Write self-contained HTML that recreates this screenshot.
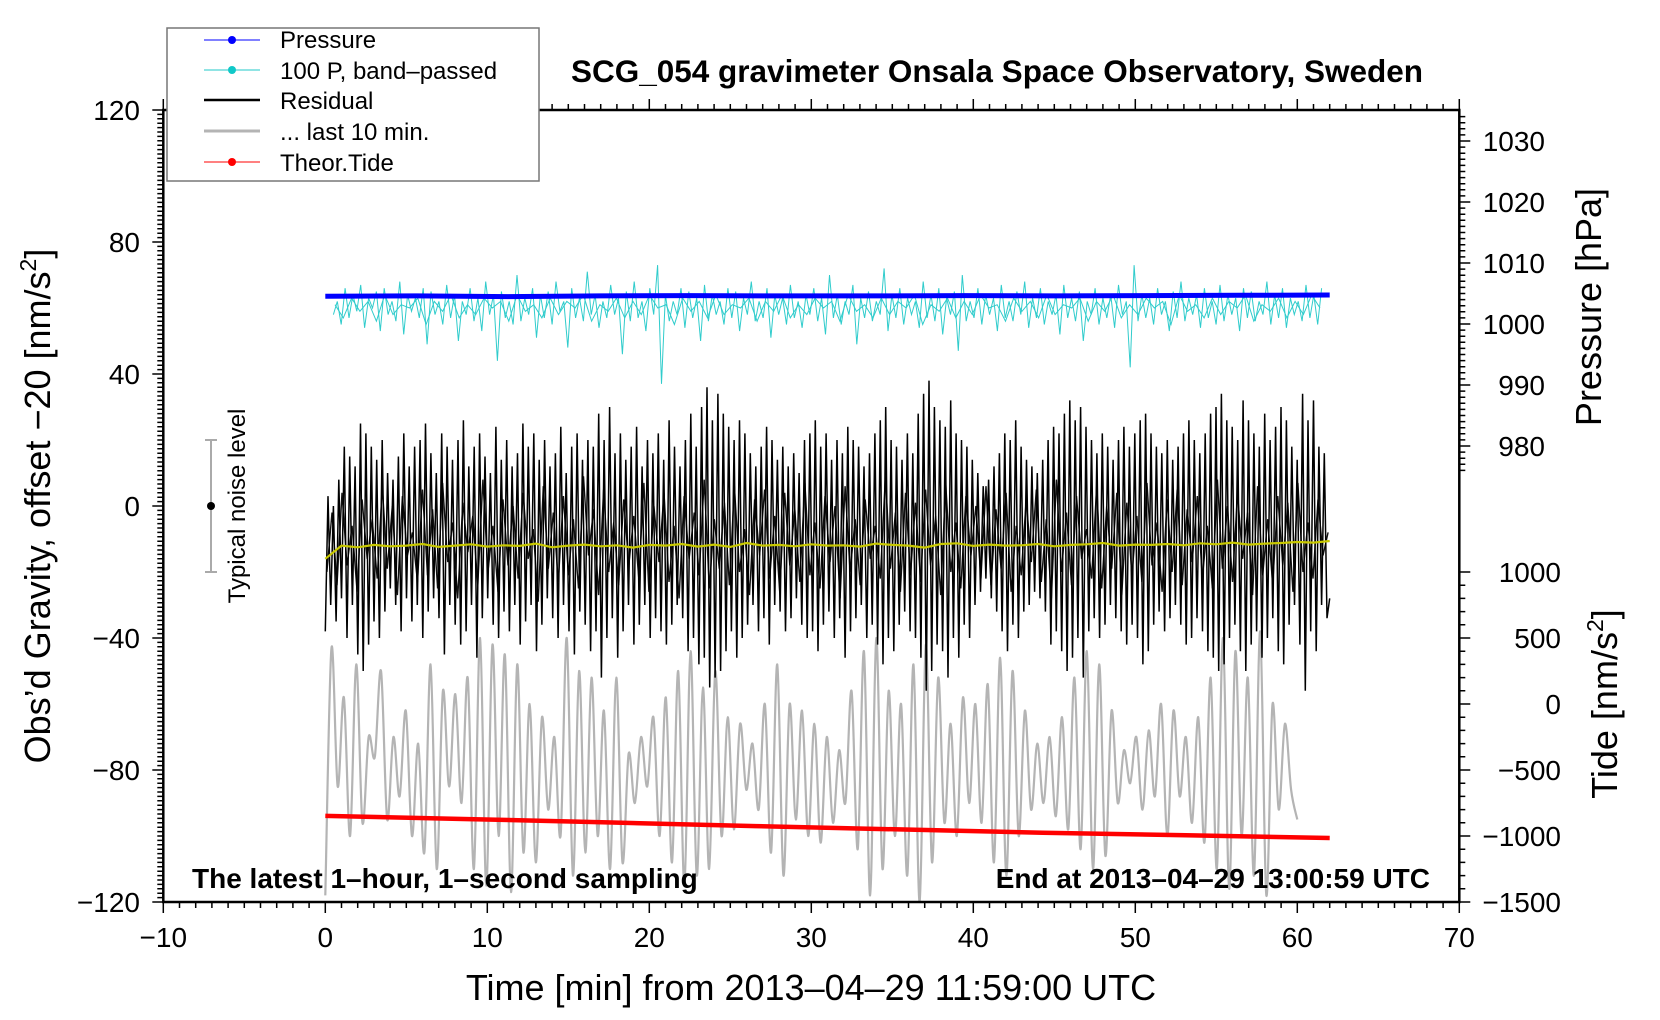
<!DOCTYPE html>
<html><head><meta charset="utf-8"><style>
html,body{margin:0;padding:0;background:#fff;}
svg{display:block;font-family:"Liberation Sans",Arial,sans-serif;}
</style></head><body>
<svg id="chart" width="1660" height="1020" viewBox="0 0 1660 1020" xmlns="http://www.w3.org/2000/svg">
<rect x="0" y="0" width="1660" height="1020" fill="#fff"/>
<g id="axes"></g>
<g id="series"></g>
<rect x="163.3" y="110" width="1296" height="792" fill="none" stroke="#000" stroke-width="2.5"/>
<text x="997" y="82" font-size="31.5" font-weight="bold" text-anchor="middle">SCG_054 gravimeter Onsala Space Observatory, Sweden</text>
<text x="192" y="888" font-size="28" font-weight="bold">The latest 1–hour, 1–second sampling</text>
<text x="1430" y="888" font-size="28" font-weight="bold" text-anchor="end">End at 2013–04–29 13:00:59 UTC</text>
<text x="811" y="1000" font-size="36" text-anchor="middle">Time [min] from 2013–04–29 11:59:00 UTC</text>
<text transform="translate(50,506) rotate(-90)" font-size="36" text-anchor="middle">Obs’d Gravity, offset −20 [nm/s<tspan font-size="23" dy="-14">2</tspan><tspan dy="14">]</tspan></text>
<text transform="translate(1601,307) rotate(-90)" font-size="36" text-anchor="middle">Pressure [hPa]</text>
<text transform="translate(1617,704) rotate(-90)" font-size="36" text-anchor="middle">Tide [nm/s<tspan font-size="23" dy="-14">2</tspan><tspan dy="14">]</tspan></text>
<g>
<line x1="211" y1="440" x2="211" y2="572" stroke="#aaa" stroke-width="2"/>
<line x1="205" y1="440" x2="217" y2="440" stroke="#aaa" stroke-width="2"/>
<line x1="205" y1="572" x2="217" y2="572" stroke="#aaa" stroke-width="2"/>
<circle cx="211" cy="506" r="4" fill="#000"/>
<text transform="translate(245,506) rotate(-90)" font-size="24" text-anchor="middle">Typical noise level</text>
</g>
<g>
<rect x="167" y="28" width="372" height="153" fill="#fff" stroke="#777" stroke-width="1.5"/>
<g><line x1="204" y1="40" x2="260" y2="40" stroke="#0000ff" stroke-width="1"/><circle cx="232" cy="40" r="4" fill="#0000ff"/><text x="280" y="48" font-size="24">Pressure</text></g>
<g><line x1="204" y1="70" x2="260" y2="70" stroke="#20c8c8" stroke-width="1"/><circle cx="232" cy="70" r="4" fill="#10c8c8"/><text x="280" y="79" font-size="24">100 P, band–passed</text></g>
<g><line x1="204" y1="100" x2="260" y2="100" stroke="#000" stroke-width="2.5"/><text x="280" y="109" font-size="24">Residual</text></g>
<g><line x1="204" y1="131" x2="260" y2="131" stroke="#b4b4b4" stroke-width="3"/><text x="280" y="140" font-size="24">... last 10 min.</text></g>
<g><line x1="204" y1="162" x2="260" y2="162" stroke="#ff0000" stroke-width="1"/><circle cx="232" cy="162" r="4" fill="#ff0000"/><text x="280" y="171" font-size="24">Theor.Tide</text></g>
</g>
</svg>
<script>
// ---- data ----
const xTicks = [-10,0,10,20,30,40,50,60,70];
const gravTicks = [120,80,40,0,-40,-80,-120];
const pressTicks = [1030,1020,1010,1000,990,980];
const tideTicks = [1000,500,0,-500,-1000,-1500];
const residual = [
-38,3,-30,0,-35,8,-28,18,-40,15,-30,12,
-45,25,-50,22,-42,18,-35,14,-40,20,-32,10,
-25,8,-30,15,-38,22,-28,12,-35,18,-30,20,
-40,25,-32,16,-28,10,-34,22,-45,18,-30,14,
-36,20,-42,26,-38,12,-30,18,-46,22,-34,15,
-28,10,-36,24,-40,14,-32,20,-38,12,-30,16,
-42,25,-35,18,-30,22,-44,14,-36,20,-28,12,
-34,16,-40,24,-30,10,-38,18,-45,22,-32,14,
-36,20,-44,18,-38,28,-52,20,-40,30,-34,16,
-46,22,-38,14,-30,18,-42,24,-36,12,-30,20,
-40,16,-34,22,-38,14,-42,26,-36,18,-30,12,
-34,20,-44,28,-40,18,-48,30,-46,36,-55,26,
-52,34,-50,28,-44,24,-38,20,-46,26,-40,22,
-36,16,-30,12,-38,18,-34,24,-42,20,-30,14,
-32,18,-38,12,-34,16,-28,10,-36,20,-40,22,
-38,26,-44,18,-36,22,-32,14,-40,20,-34,16,
-46,24,-38,20,-34,18,-30,12,-40,16,-36,22,
-42,26,-48,30,-40,20,-44,18,-36,14,-32,22,
-38,16,-40,28,-46,34,-56,38,-50,30,-42,26,
-44,24,-52,32,-40,22,-46,20,-36,18,-40,14,
-30,10,-26,6,-22,8,-28,12,-32,16,-38,22,
-44,20,-36,26,-40,18,-32,14,-30,12,-26,10,
-28,14,-32,20,-42,24,-38,22,-44,28,-50,32,
-46,26,-40,30,-52,24,-38,20,-34,16,-40,22,
-36,18,-30,14,-34,20,-38,24,-42,18,-36,22,
-40,26,-48,28,-44,22,-36,18,-32,16,-38,20,
-34,14,-30,18,-36,22,-42,26,-40,20,-34,16,
-38,22,-44,28,-46,30,-50,34,-48,26,-40,24,
-36,20,-44,32,-50,26,-42,22,-38,18,-46,28,
-40,20,-34,24,-44,30,-48,26,-36,18,-30,14,
-42,34,-56,26,-38,32,-44,18,-30,16,-34,-28];
const residualFine = [
-20,-2,-24,4,-18,-6,-26,2,-16,-4,-22,6,-19,0,-27,3,-15,-8,-23,5,
-21,-1,-25,7,-17,-5,-28,1,-14,-3,-24,8,-20,-6,-26,2,-18,0,-22,4,
-16,-7,-29,6,-19,-2,-23,3,-21,-4,-25,9,-15,-1,-27,5,-20,-5,-24,2,
-18,-3,-22,7,-26,0,-17,4,-23,-6,-28,3,-16,-2,-21,8,-25,-4,-19,1,
-24,6,-20,-7,-27,2,-15,5,-22,-3,-26,4,-18,-1,-23,7,-21,-5,-25,3,
-17,0,-28,6,-20,-4,-24,2,-16,-6,-22,9,-19,-2,-26,4,-21,1,-23,5,
-18,-3,-27,7,-20,-5,-25,3,-15,0,-22,6,-24,-1,-19,4,-26,-6,-21,2,
-17,5,-23,-4,-28,8,-20,-2,-24,3,-16,-7,-22,6,-25,0,-19,4,-27,1,
-21,-3,-23,7,-18,-5,-26,2,-20,5,-24,-1,-17,3,-22,-6,-25,8,-19,0,
-23,4,-16,-2,-27,6,-21,-4,-24,3,-18,1,-26,7,-20,-5,-22,2,-15,-8];
const residualMean = [-16,-12,-12.5,-11.8,-12.2,-12,-11.5,-12.4,-12,-11.6,-12.3,-11.9,-12.1,-11.4,-12.5,-12,-11.7,-12.2,-11.9,-12.6,-11.8,-12,-11.5,-12.3,-11.7,-12.4,-11.2,-12,-11.8,-12.2,-11.6,-12,-11.9,-12.3,-11.4,-11.8,-12,-12.6,-11.5,-11.3,-12.1,-11.7,-12,-11.9,-11.5,-12.2,-11.8,-11.6,-11.2,-12,-11.7,-11.8,-11.5,-11.9,-11.3,-11.6,-11.1,-11.7,-11.4,-11.2,-10.9,-11.1,-10.6];
const lastTen = [-118,-43,-85,-58,-100,-48,-96,-70,-76,-50,-95,-70,-88,-62,-100,-72,-105,-48,-110,-56,-85,-57,-90,-52,-110,-40,-115,-42,-100,-45,-117,-48,-105,-60,-108,-64,-92,-70,-100,-40,-112,-50,-105,-52,-100,-62,-110,-52,-108,-75,-90,-70,-85,-64,-100,-58,-108,-50,-115,-44,-112,-55,-110,-50,-100,-64,-98,-66,-86,-72,-92,-60,-105,-48,-112,-60,-95,-62,-100,-66,-102,-70,-96,-74,-90,-56,-104,-44,-118,-40,-110,-56,-100,-60,-112,-48,-120,-42,-108,-52,-96,-66,-100,-58,-90,-60,-96,-54,-108,-46,-112,-50,-100,-62,-92,-72,-90,-70,-94,-64,-98,-52,-104,-44,-110,-48,-106,-62,-90,-74,-84,-70,-92,-68,-88,-60,-100,-62,-88,-70,-96,-64,-102,-52,-110,-40,-116,-44,-100,-52,-112,-38,-118,-60,-92,-66,-86,-95];
const bandPassed = [
58,62,55,66,57,64,59,67,54,63,60,65,53,66,58,62,56,68,52,64,59,63,57,66,
49,65,58,62,55,67,57,64,50,62,58,66,56,63,53,68,58,64,44,65,57,62,55,70,
56,63,58,66,51,64,57,65,55,68,59,62,48,66,57,63,56,71,58,64,54,62,57,67,
58,63,46,65,56,68,57,62,53,66,58,73,37,64,56,62,58,66,54,65,57,63,50,67,
56,64,58,62,55,66,57,65,53,63,58,68,56,62,57,66,51,64,58,63,55,67,57,62,
54,64,58,66,56,63,52,70,57,64,55,62,58,67,49,63,57,65,56,62,58,72,53,64,
57,66,55,63,58,62,54,68,57,64,56,66,52,63,58,65,47,70,56,62,57,66,55,64,
58,63,53,67,57,62,56,65,58,68,54,63,57,66,55,62,58,64,52,67,57,63,56,65,
50,62,58,66,55,63,57,64,54,67,58,62,42,73,56,64,57,63,55,66,58,62,53,65,
57,68,56,63,58,64,54,66,57,62,55,67,56,64,58,63,53,66,57,65,56,62,58,68,
55,64,57,66,54,63,58,62,56,67,57,64,55,66];
const bandPassedFine = [
61,57,63,59,62,56,64,58,61,60,63,55,62,59,64,57,61,58,63,60,
62,56,64,59,61,57,63,58,62,60,64,56,61,59,63,57,62,58,64,60,
61,55,63,59,62,57,64,58,61,60,63,56,62,59,64,57,61,58,63,60,
62,56,64,59,61,57,63,58,62,60,64,55,61,59,63,57,62,58,64,60,
61,56,63,59,62,57,64,58,61,60,63,56,62,59,64,57,61,58,63,60,
62,55,64,59,61,57,63,58,62,60,64,56,61,59,63,57,62,58,64,60];
const pressure = [1004.55,1004.6,1004.5,1004.6,1004.65,1004.6,1004.6,1004.65,1004.6,1004.65,1004.7,1004.75];
const theorTide = [-848,-872,-898,-925,-950,-975,-995,-1015];

// ---- scales ----
const X0=163.3, X1=1459.3, YT=110, YB=902;
const sx = m => X0 + (m+10)*(X1-X0)/80;
const sg = g => YB - (g+120)*(YB-YT)/240;
const sp = p => 324 - (p-1000)*6.1;
const st = t => 704 - t*66/500;
const NS='http://www.w3.org/2000/svg';
const axes=document.getElementById('axes'), series=document.getElementById('series');
function mk(tag, attrs, parent){const e=document.createElementNS(NS,tag);for(const k in attrs)e.setAttribute(k,attrs[k]);parent.appendChild(e);return e;}

// ---- ticks ----
let tk='';
for(let m=-10;m<=70;m++){const x=sx(m),len=(m%10===0)?11:6;tk+=`M${x} ${YB}v${len}M${x} ${YT}v${-len}`;}
for(let i=0;i<=180;i++){const g=-120+i*4/3,y=sg(g),len=(Math.abs(g%40)<0.01)?11:6;tk+=`M${X0} ${y}h${-len}`;}
for(let p=976;p<=1034;p++){const y=sp(p),len=(p%10===0)?11:6;tk+=`M${X1} ${y}h${len}`;}
for(let t=1000;t>=-1500;t-=100){const y=st(t),len=(t%500===0)?11:6;tk+=`M${X1} ${y}h${len}`;}
const tp=mk('path',{d:tk,stroke:'#000','stroke-width':1.5,fill:'none'},axes);


xTicks.forEach(v=>{const t=mk('text',{x:sx(v),y:947,'font-size':28,'text-anchor':'middle'},axes);t.textContent=String(v).replace('-','−');

});
gravTicks.forEach(v=>{const t=mk('text',{x:140,y:sg(v)+10,'font-size':28,'text-anchor':'end'},axes);t.textContent=String(v).replace('-','−');

});
pressTicks.forEach(v=>{const t=mk('text',{x:1545,y:sp(v)+10,'font-size':28,'text-anchor':'end'},axes);t.textContent=String(v);

});
tideTicks.forEach(v=>{const t=mk('text',{x:1561,y:st(v)+10,'font-size':28,'text-anchor':'end'},axes);t.textContent=String(v).replace('-','−');

});

// ---- series ----
function poly(arr,x0,x1,ys){return arr.map((v,i)=>(i?'L':'M')+sx(x0+i*(x1-x0)/(arr.length-1)).toFixed(1)+' '+ys(v).toFixed(1)).join('');}
function smooth(arr,x0,x1,ys){const P=arr.map((v,i)=>[sx(x0+i*(x1-x0)/(arr.length-1)),ys(v)]);let d=`M${P[0][0]} ${P[0][1]}`;
for(let i=0;i<P.length-1;i++){const p0=P[Math.max(i-1,0)],p1=P[i],p2=P[i+1],p3=P[Math.min(i+2,P.length-1)];
d+=`C${p1[0]+(p2[0]-p0[0])/6} ${p1[1]+(p2[1]-p0[1])/6} ${p2[0]-(p3[0]-p1[0])/6} ${p2[1]-(p3[1]-p1[1])/6} ${p2[0]} ${p2[1]}`;}return d;}

const gl=mk('path',{d:smooth(lastTen,0,60,sg),stroke:'#b4b4b4','stroke-width':2.2,fill:'none'},series);


const rf=mk('path',{d:poly(residualFine,0.1,61.9,sg),stroke:'#111','stroke-width':1.4,fill:'none'},series);


const rl=mk('path',{d:poly(residual,0,62,sg),stroke:'#000','stroke-width':1.5,fill:'none'},series);


const yl=mk('path',{d:poly(residualMean,0,62,sg),stroke:'#c8c800','stroke-width':2.2,fill:'none'},series);


const cf=mk('path',{d:poly(bandPassedFine,0.6,61.4,sg),stroke:'#30cccc','stroke-width':1,fill:'none'},series);


const cl=mk('path',{d:poly(bandPassed,0.5,61.5,sg),stroke:'#30cccc','stroke-width':1,fill:'none'},series);


const pl=mk('path',{d:poly(pressure,0,62,sp),stroke:'#0000ff','stroke-width':5,fill:'none'},series);


const tl=mk('path',{d:poly(theorTide,0,62,st),stroke:'#ff0000','stroke-width':4.5,fill:'none'},series);


</script>
</body></html>
